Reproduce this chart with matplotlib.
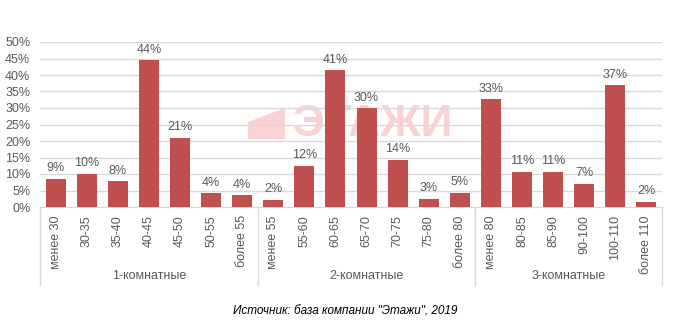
import matplotlib.pyplot as plt
from matplotlib.patches import Polygon
import numpy as np

# data
categories = ["менее 30", "30-35", "35-40", "40-45", "45-50", "50-55", "более 55",
              "менее 55", "55-60", "60-65", "65-70", "70-75", "75-80", "более 80",
              "менее 80", "80-85", "85-90", "90-100", "100-110", "более 110"]
values = [8.6, 10.0, 7.8, 44.4, 20.9, 4.2, 3.6,
          2.1, 12.5, 41.4, 29.9, 14.3, 2.5, 4.3,
          32.6, 10.7, 10.7, 7.0, 36.9, 1.5]
labels = ["9%", "10%", "8%", "44%", "21%", "4%", "4%",
          "2%", "12%", "41%", "30%", "14%", "3%", "5%",
          "33%", "11%", "11%", "7%", "37%", "2%"]
groups = ["1-комнатные", "2-комнатные", "3-комнатные"]
group_sizes = [7, 7, 6]

plt.rcParams['font.family'] = ['Liberation Sans', 'DejaVu Sans']
txt = '#595959'
grid = '#D9D9D9'
wm = '#FAD2D2'

fig = plt.figure(figsize=(6.76, 3.32), dpi=100)
ax = fig.add_axes([40/676, 125/332, 622/676, 165/332])

x = np.arange(len(values))
ax.bar(x, values, width=0.64, color='#C0504D', zorder=3)
for xi, v, lab in zip(x, values, labels):
    ax.text(xi, v + 1.4, lab, ha='center', va='bottom', fontsize=9, color=txt, zorder=4)

ax.set_xlim(-0.5, len(values) - 0.5)
ax.set_ylim(0, 50)
ax.set_yticks(np.arange(0, 51, 5))
ax.set_yticklabels([f"{t}%" for t in range(0, 51, 5)])
ax.yaxis.grid(True, color=grid, linewidth=1, zorder=1)
ax.set_axisbelow(False)
ax.tick_params(axis='y', length=0, labelsize=9, labelcolor=txt, pad=7)
ax.set_xticks(x)
ax.set_xticklabels(categories, rotation=90, fontsize=9, color=txt)
ax.tick_params(axis='x', length=0, pad=6)
for s in ['top', 'right', 'left']:
    ax.spines[s].set_visible(False)
ax.spines['bottom'].set_color(grid)

# group labels and separators
start = -0.5
for g, n in zip(groups, group_sizes):
    ax.plot([start, start], [0, -0.47], transform=ax.get_xaxis_transform(),
            color=grid, linewidth=1, clip_on=False)
    ax.text(start + n / 2, -0.42, g, transform=ax.get_xaxis_transform(),
            ha='center', va='center', fontsize=9, color=txt)
    start += n
ax.plot([start, start], [0, -0.47], transform=ax.get_xaxis_transform(),
        color=grid, linewidth=1, clip_on=False)

# watermark (behind the bars)
ax.text(373/676, 208/332, "ЭТАЖИ", transform=fig.transFigure, fontsize=32,
        fontweight='bold', color=wm, ha='center', va='center', zorder=0.5)
icon = Polygon([(248/676, 193/332), (248/676, 210/332), (285/676, 224/332), (285/676, 193/332)],
               closed=True, transform=fig.transFigure, facecolor=wm, edgecolor='none', zorder=0.5)
ax.add_patch(icon)

fig.text(345/676, 21/332, 'Источник: база компании "Этажи", 2019', fontsize=8.5,
         style='italic', color='#000000', ha='center', va='center')

fig.savefig('out.png', dpi=100)
